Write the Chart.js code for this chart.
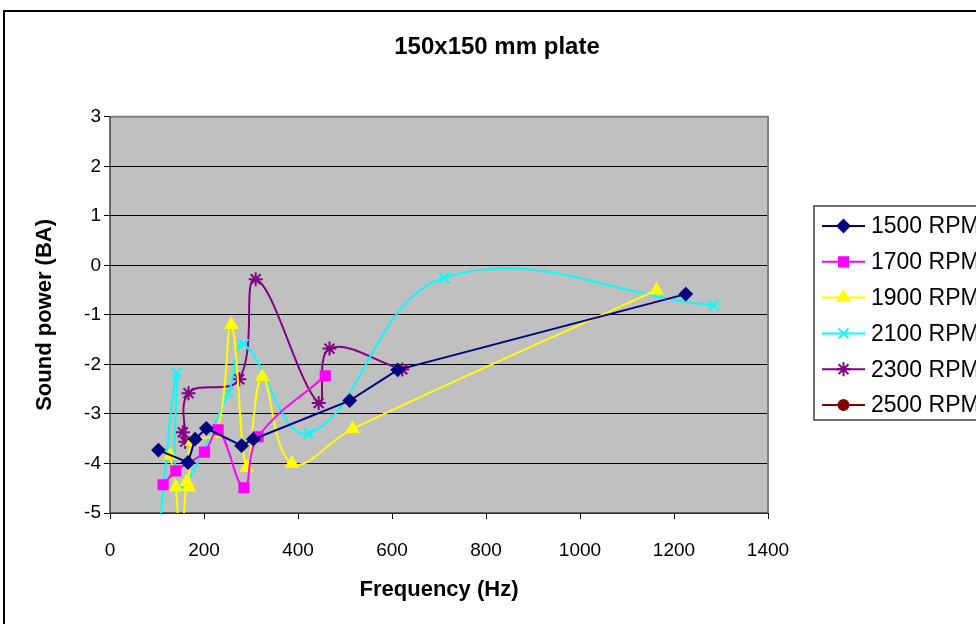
<!DOCTYPE html>
<html lang="en">
<head>
    <meta charset="UTF-8">
    <title>150x150 mm plate</title>
    <script src="https://cdn.jsdelivr.net/npm/chart.js@4.4.1/dist/chart.umd.min.js"></script>
    <style>
        html, body { margin: 0; padding: 0; background: #fff; }
        #wrap { width: 976px; height: 624px; }
    </style>
</head>
<body>
<div id="wrap"><canvas id="plateChart" width="976" height="624"></canvas></div>
<script>
    // values (frequency in Hz, sound power in BA)
    var freq1500 = [103, 166, 181, 205, 280, 305, 510, 612, 1225];
    var sp1500   = [-3.73, -3.98, -3.51, -3.29, -3.64, -3.51, -2.73, -2.11, -0.58];

    var freq1700 = [113, 140, 201, 230, 285, 315, 458];
    var sp1700   = [-4.43, -4.15, -3.77, -3.32, -4.49, -3.46, -2.23];

    var freq1900 = [128, 140, 150, 163, 168, 174, 226, 258, 291, 324, 387, 516, 1163];
    var sp1900   = [-3.84, -4.48, -5.8, -4.37, -4.48, -3.56, -3.39, -1.2, -4.08, -2.25, -4.0, -3.3, -0.5];

    var freq2100 = [104, 142, 147, 252, 284, 423, 711, 1285];
    var sp2100   = [-5.4, -2.17, -4.48, -2.57, -1.59, -3.39, -0.25, -0.81];

    var freq2300 = [155, 160, 167, 275, 310, 444, 467, 622];
    var sp2300   = [-3.37, -3.56, -2.58, -2.3, -0.28, -2.78, -1.68, -2.1];

    var freq2500 = [];
    var sp2500   = [];

    var seriesNames = ['1500 RPM', '1700 RPM', '1900 RPM', '2100 RPM', '2300 RPM', '2500 RPM'];
    var xTicks = [0, 200, 400, 600, 800, 1000, 1200, 1400];
    var yTicks = [3, 2, 1, 0, -1, -2, -3, -4, -5];

    var fontFamily = "'Liberation Sans', Arial, sans-serif";

    function pairs(xs, ys) {
        var out = [];
        for (var i = 0; i < xs.length; i++) {
            out.push({ x: xs[i], y: ys[i] });
        }
        return out;
    }

    function makeSet(name, xs, ys, color, style, radius, tension) {
        return {
            label: name,
            data: pairs(xs, ys),
            showLine: true,
            borderColor: color,
            backgroundColor: color,
            borderWidth: 2,
            pointStyle: style,
            pointRadius: radius,
            pointBorderWidth: 2,
            pointHoverRadius: radius,
            tension: tension
        };
    }

    var datasets = [
        makeSet(seriesNames[0], freq1500, sp1500, '#000080', 'rectRot', 6, 0),
        makeSet(seriesNames[1], freq1700, sp1700, '#FF00FF', 'rect', 6.5, 0.4),
        makeSet(seriesNames[2], freq1900, sp1900, '#FFFF00', 'triangle', 6.5, 0.4),
        makeSet(seriesNames[3], freq2100, sp2100, '#00FFFF', 'crossRot', 7, 0.4),
        makeSet(seriesNames[4], freq2300, sp2300, '#800080', 'star', 7, 0.4),
        makeSet(seriesNames[5], freq2500, sp2500, '#800000', 'circle', 5, 0.4)
    ];

    // white page, grey plot area, outer frame
    var backdrop = {
        id: 'backdrop',
        beforeDraw: function(chart) {
            var ctx = chart.ctx, a = chart.chartArea;
            ctx.save();
            ctx.fillStyle = '#ffffff';
            ctx.fillRect(0, 0, chart.width, chart.height);
            ctx.fillStyle = '#C0C0C0';
            ctx.fillRect(a.left, a.top, a.right - a.left, a.bottom - a.top);
            ctx.restore();
        },
        beforeDatasetsDraw: function(chart) {
            var ctx = chart.ctx, a = chart.chartArea;
            ctx.save();
            ctx.strokeStyle = '#808080';
            ctx.lineWidth = 2;
            ctx.beginPath();
            ctx.moveTo(a.left, a.top);
            ctx.lineTo(a.right, a.top);
            ctx.lineTo(a.right, a.bottom);
            ctx.stroke();
            ctx.strokeStyle = '#404040';
            ctx.lineWidth = 1.5;
            ctx.beginPath();
            ctx.moveTo(a.left, a.top);
            ctx.lineTo(a.left, a.bottom);
            ctx.lineTo(a.right, a.bottom);
            ctx.stroke();
            ctx.restore();
        },
        afterDraw: function(chart) {
            var ctx = chart.ctx;
            ctx.save();
            ctx.strokeStyle = '#000000';
            ctx.lineWidth = 2;
            ctx.beginPath();
            ctx.moveTo(4, chart.height);
            ctx.lineTo(4, 11);
            ctx.lineTo(chart.width, 11);
            ctx.stroke();
            ctx.restore();
        }
    };

    // excel-like legend: line with marker, boxed
    var sideLegend = {
        id: 'sideLegend',
        afterDraw: function(chart) {
            var ctx = chart.ctx;
            var left = 814, top = 206, bottom = 420;
            ctx.save();
            ctx.fillStyle = '#ffffff';
            ctx.fillRect(left, top, chart.width - left + 5, bottom - top);
            ctx.strokeStyle = '#404040';
            ctx.lineWidth = 1.5;
            ctx.strokeRect(left, top, chart.width - left + 5, bottom - top);
            var rowH = 35.8;
            chart.data.datasets.forEach(function(ds, i) {
                var y = 226 + i * rowH;
                ctx.strokeStyle = ds.borderColor;
                ctx.lineWidth = 2;
                ctx.beginPath();
                ctx.moveTo(822, y);
                ctx.lineTo(865, y);
                ctx.stroke();
                ctx.fillStyle = ds.backgroundColor;
                ctx.lineWidth = 2;
                Chart.helpers.drawPoint(ctx, {
                    pointStyle: ds.pointStyle,
                    radius: ds.pointRadius,
                    rotation: 0,
                    borderWidth: 2
                }, 843.5, y);
                ctx.fillStyle = '#000000';
                ctx.font = '23px ' + fontFamily;
                ctx.textAlign = 'left';
                ctx.textBaseline = 'middle';
                ctx.fillText(ds.label, 871, y + 1);
            });
            ctx.restore();
        }
    };

    new Chart(document.getElementById('plateChart'), {
        type: 'scatter',
        data: { datasets: datasets },
        plugins: [backdrop, sideLegend],
        options: {
            responsive: false,
            animation: false,
            layout: { padding: { left: 18, right: 0, top: 0, bottom: 0 } },
            plugins: {
                legend: { display: false },
                tooltip: { enabled: false },
                title: {
                    display: true,
                    text: '150x150 mm plate',
                    color: '#000000',
                    font: { family: fontFamily, size: 24, weight: 'bold' },
                    padding: { top: 33, bottom: 55 }
                }
            },
            scales: {
                x: {
                    type: 'linear',
                    min: 0,
                    max: 1400,
                    afterBuildTicks: function(scale) {
                        scale.ticks = xTicks.map(function(v) { return { value: v }; });
                    },
                    ticks: {
                        color: '#000000',
                        font: { family: fontFamily, size: 19 },
                        padding: 20,
                        maxRotation: 0,
                        callback: function(v) { return String(v); }
                    },
                    grid: {
                        drawOnChartArea: false,
                        drawTicks: true,
                        tickLength: 6,
                        color: '#000000'
                    },
                    border: { display: false },
                    title: {
                        display: true,
                        text: 'Frequency (Hz)',
                        color: '#000000',
                        font: { family: fontFamily, size: 22, weight: 'bold' },
                        padding: { top: 0, bottom: 21 }
                    },
                    afterFit: function(scale) { scale.height = 111; }
                },
                y: {
                    type: 'linear',
                    min: -5,
                    max: 3,
                    afterBuildTicks: function(scale) {
                        scale.ticks = yTicks.map(function(v) { return { value: v }; });
                    },
                    ticks: {
                        color: '#000000',
                        font: { family: fontFamily, size: 19 },
                        padding: 3,
                        callback: function(v) { return String(v); }
                    },
                    grid: {
                        color: '#000000',
                        lineWidth: 1,
                        tickLength: 6
                    },
                    border: { display: false },
                    title: {
                        display: true,
                        text: 'Sound power (BA)',
                        color: '#000000',
                        font: { family: fontFamily, size: 22, weight: 'bold' },
                        padding: { top: 14, bottom: 0 }
                    },
                    afterFit: function(scale) { scale.width = 92; }
                },
                spacer: {
                    type: 'linear',
                    position: 'right',
                    display: true,
                    ticks: { display: false },
                    grid: { display: false },
                    border: { display: false },
                    afterFit: function(scale) { scale.width = 208; }
                }
            }
        }
    });
</script>
</body>
</html>
